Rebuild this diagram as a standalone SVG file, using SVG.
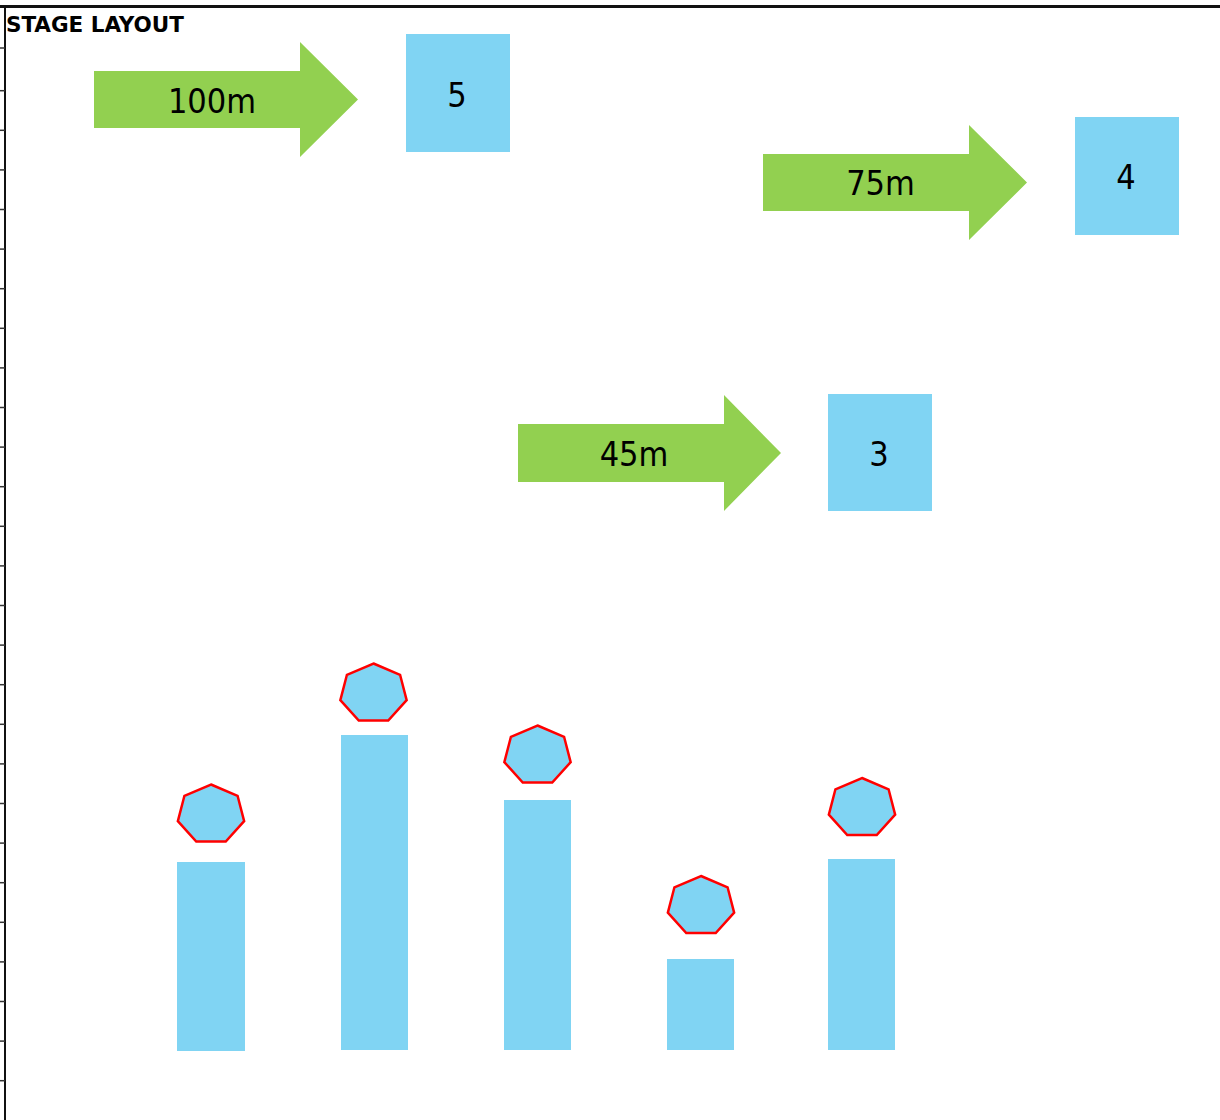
<svg xmlns="http://www.w3.org/2000/svg" xmlns:xlink="http://www.w3.org/1999/xlink" width="1220" height="1120" viewBox="0 0 1220 1120">
<style>
.frame{stroke:#111;fill:none}
.tick{stroke:#333;stroke-width:1.5}
.arrow{fill:#92D050}
.box{fill:#80D4F3}
.bar{fill:#80D4F3}
.hep{fill:#80D4F3;stroke:#FF0000;stroke-width:2.5;stroke-linejoin:miter}
.lbl{font-family:"DejaVu Sans Condensed","DejaVu Sans",sans-serif;font-size:34px;fill:#000;text-anchor:middle}
.title{font-family:"DejaVu Sans Condensed","DejaVu Sans",sans-serif;font-weight:bold;font-size:22px;fill:#000}
</style>
<defs>
<polygon id="hep" class="hep" points="0,-30 26.58,-18.7 33.15,6.68 14.75,27.03 -14.75,27.03 -33.15,6.68 -26.58,-18.7"/>
</defs>
<rect width="1220" height="1120" fill="#fff"/>
<g id="axes">
<line class="frame" x1="0" y1="6.5" x2="1220" y2="6.5" stroke-width="3"/>
<line class="frame" x1="5" y1="6" x2="5" y2="1120" stroke-width="2"/>
<g class="tick">
<line x1="0" y1="48" x2="5" y2="48"/>
<line x1="0" y1="90.7" x2="5" y2="90.7"/>
<line x1="0" y1="130.3" x2="5" y2="130.3"/>
<line x1="0" y1="169.9" x2="5" y2="169.9"/>
<line x1="0" y1="209.5" x2="5" y2="209.5"/>
<line x1="0" y1="249.1" x2="5" y2="249.1"/>
<line x1="0" y1="288.7" x2="5" y2="288.7"/>
<line x1="0" y1="328.3" x2="5" y2="328.3"/>
<line x1="0" y1="367.9" x2="5" y2="367.9"/>
<line x1="0" y1="407.5" x2="5" y2="407.5"/>
<line x1="0" y1="447.1" x2="5" y2="447.1"/>
<line x1="0" y1="486.7" x2="5" y2="486.7"/>
<line x1="0" y1="526.3" x2="5" y2="526.3"/>
<line x1="0" y1="565.9" x2="5" y2="565.9"/>
<line x1="0" y1="605.5" x2="5" y2="605.5"/>
<line x1="0" y1="645.1" x2="5" y2="645.1"/>
<line x1="0" y1="684.7" x2="5" y2="684.7"/>
<line x1="0" y1="724.3" x2="5" y2="724.3"/>
<line x1="0" y1="763.9" x2="5" y2="763.9"/>
<line x1="0" y1="803.5" x2="5" y2="803.5"/>
<line x1="0" y1="843.1" x2="5" y2="843.1"/>
<line x1="0" y1="882.7" x2="5" y2="882.7"/>
<line x1="0" y1="922.3" x2="5" y2="922.3"/>
<line x1="0" y1="961.9" x2="5" y2="961.9"/>
<line x1="0" y1="1001.5" x2="5" y2="1001.5"/>
<line x1="0" y1="1041.1" x2="5" y2="1041.1"/>
<line x1="0" y1="1080.7" x2="5" y2="1080.7"/>
</g>
<text class="title" x="6" y="32" textLength="178" lengthAdjust="spacingAndGlyphs">STAGE LAYOUT</text>
</g>
<g id="arrow-100m">
<polygon class="arrow" points="94,71 300,71 300,42 358,99.5 300,157 300,128 94,128"/>
<text class="lbl" x="212" y="113">100m</text>
</g>
<g id="box-5">
<rect class="box" x="406" y="34" width="104" height="118"/>
<text class="lbl" x="457" y="107">5</text>
</g>
<g id="arrow-75m">
<polygon class="arrow" points="763,154 969,154 969,125 1027,182.5 969,240 969,211 763,211"/>
<text class="lbl" x="880.5" y="195">75m</text>
</g>
<g id="box-4">
<rect class="box" x="1075" y="117" width="104" height="118"/>
<text class="lbl" x="1126" y="189">4</text>
</g>
<g id="arrow-45m">
<polygon class="arrow" points="518,424 724,424 724,395 781,453 724,511 724,482 518,482"/>
<text class="lbl" x="634" y="466">45m</text>
</g>
<g id="box-3">
<rect class="box" x="828" y="394" width="104" height="117"/>
<text class="lbl" x="879" y="466">3</text>
</g>
<g id="bar-1">
<rect class="bar" x="177" y="862" width="68" height="189"/>
<use xlink:href="#hep" href="#hep" x="211" y="814.5"/>
</g>
<g id="bar-2">
<rect class="bar" x="341" y="735" width="67" height="315"/>
<use xlink:href="#hep" href="#hep" x="373.5" y="693.5"/>
</g>
<g id="bar-3">
<rect class="bar" x="504" y="800" width="67" height="250"/>
<use xlink:href="#hep" href="#hep" x="537.5" y="755.5"/>
</g>
<g id="bar-4">
<rect class="bar" x="667" y="959" width="67" height="91"/>
<use xlink:href="#hep" href="#hep" x="701" y="906"/>
</g>
<g id="bar-5">
<rect class="bar" x="828" y="859" width="67" height="191"/>
<use xlink:href="#hep" href="#hep" x="862" y="808"/>
</g>
<g id="connectors"/>
</svg>
